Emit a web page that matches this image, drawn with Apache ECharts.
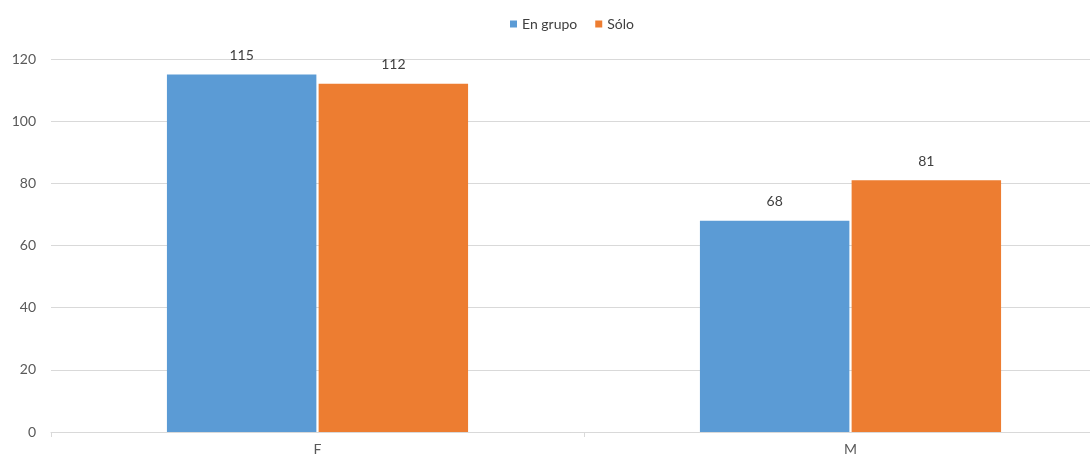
<!DOCTYPE html>
<html>
<head>
<meta charset="utf-8">
<script src="https://cdn.jsdelivr.net/npm/echarts@6/dist/echarts.min.js"></script>
<style>html,body{margin:0;padding:0;background:#fff;}#c{width:1090px;height:457px;}</style>
</head>
<body>
<div id="c"></div>
<script>
var categories = ['F', 'M'];
var seriesNames = ['En grupo', 'Sólo'];
var enGrupo = [115, 68];
var solo = [112, 81];
var yTicks = [0, 20, 40, 60, 80, 100, 120];

var font = 'Lato, "Open Sans", sans-serif';
var chart = echarts.init(document.getElementById('c'));
chart.setOption({
  animation: false,
  backgroundColor: '#fff',
  textStyle: { fontFamily: font },
  legend: {
    data: seriesNames,
    top: 12,
    left: 505,
    itemWidth: 7,
    itemHeight: 7,
    itemGap: 18,
    icon: 'rect',
    textStyle: { fontFamily: font, fontSize: 14, color: '#404040' }
  },
  grid: { left: 51, right: -27, top: 59, bottom: 25, containLabel: false, outerBoundsMode: 'none' },
  xAxis: {
    type: 'category',
    data: categories,
    axisLine: { lineStyle: { color: '#D9D9D9' } },
    axisTick: { show: true, length: 5, lineStyle: { color: '#D9D9D9' } },
    axisLabel: { color: '#595959', fontFamily: font, fontSize: 14, margin: 10 }
  },
  yAxis: {
    type: 'value',
    min: yTicks[0],
    max: yTicks[yTicks.length - 1],
    interval: 20,
    axisLine: { show: false },
    axisTick: { show: false },
    splitLine: { lineStyle: { color: '#D9D9D9' } },
    axisLabel: { color: '#595959', fontFamily: font, fontSize: 14, margin: 15 }
  },
  series: [
    {
      name: seriesNames[0], type: 'bar', data: enGrupo,
      barGap: '1.5%', barCategoryGap: '43.5%',
      itemStyle: { color: '#5B9BD5' },
      label: { show: true, position: 'top', distance: 12, color: '#404040', fontFamily: font, fontSize: 14 }
    },
    {
      name: seriesNames[1], type: 'bar', data: solo,
      barGap: '1.5%', barCategoryGap: '43.5%',
      itemStyle: { color: '#ED7D31' },
      label: { show: true, position: 'top', distance: 12, color: '#404040', fontFamily: font, fontSize: 14 }
    }
  ]
});
</script>
</body>
</html>
